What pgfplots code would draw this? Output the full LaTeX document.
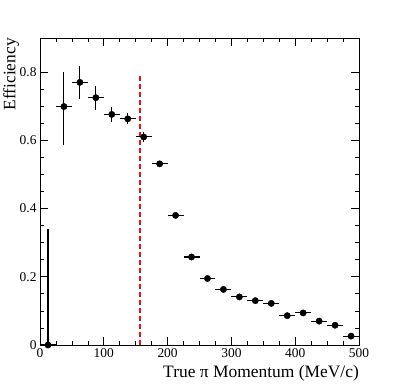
\documentclass[border=0pt]{standalone}
\usepackage{pgfplots}
\pgfplotsset{compat=1.18}
\usepackage{fontspec}
\setmainfont{Liberation Serif}
\definecolor{cutred}{RGB}{230,20,20}

\begin{document}
\begin{tikzpicture}
\begin{axis}[
    name=ax,
    scale only axis, width=319bp, height=307bp,
    xmin=0, xmax=500, ymin=0, ymax=0.9,
    xtick={0,100,...,500}, ytick={0,0.2,0.4,0.6,0.8},
    minor x tick num=3, minor y tick num=3,
    major tick length=8bp, minor tick length=4bp,
    tick style={black, line width=0.7pt},
    axis line style={black, line width=0.8pt},
    /pgf/number format/assume math mode=true,
    ticklabel style={font=\fontsize{13.5}{14}\selectfont},
    yticklabel style={/pgf/number format/fixed, /pgf/number format/precision=1},
    xlabel={True π Momentum (MeV/c)},
    ylabel={Efficiency},
    label style={font=\fontsize{17.5}{18}\selectfont},
    xlabel style={at={(rel axis cs:1,0)}, anchor=north east, yshift=-20bp, inner sep=0pt},
    ylabel style={at={([xshift=-37bp]rel axis cs:0,1)}, anchor=north east, inner sep=0pt},
]
\addplot[color=cutred, solid, dash pattern=on 5bp off 3bp, line width=2pt, mark=none] table {
x    y
156  0
156  0.795
};
\addplot[black, only marks, mark=*, mark size=3.2pt,
    error bars/.cd, x dir=both, x explicit, y dir=both, y explicit,
    error mark=none, error bar style={line width=1.1pt}]
    table[x=x, y=y, x error=ex, y error plus=eyp, y error minus=eym] {
x      y      ex    eyp    eym
12.5   0.000  12.5  0.340  0.000
37.5   0.699  12.5  0.100  0.113
62.5   0.770  12.5  0.048  0.050
87.5   0.725  12.5  0.035  0.036
112.5  0.676  12.5  0.023  0.021
137.5  0.663  12.5  0.016  0.015
162.5  0.610  12.5  0.014  0.014
187.5  0.531  12.5  0.009  0.009
212.5  0.380  12.5  0.008  0.008
237.5  0.258  12.5  0.007  0.007
262.5  0.195  12.5  0.006  0.006
287.5  0.163  12.5  0.006  0.006
312.5  0.141  12.5  0.006  0.006
337.5  0.130  12.5  0.006  0.006
362.5  0.122  12.5  0.006  0.006
387.5  0.086  12.5  0.005  0.005
412.5  0.094  12.5  0.006  0.006
437.5  0.070  12.5  0.005  0.005
462.5  0.058  12.5  0.005  0.005
487.5  0.026  12.5  0.004  0.004
};
\end{axis}
\path[use as bounding box] ([xshift=-40bp,yshift=-39bp]ax.south west) rectangle ([xshift=40bp,yshift=38bp]ax.north east);
\end{tikzpicture}
\end{document}
